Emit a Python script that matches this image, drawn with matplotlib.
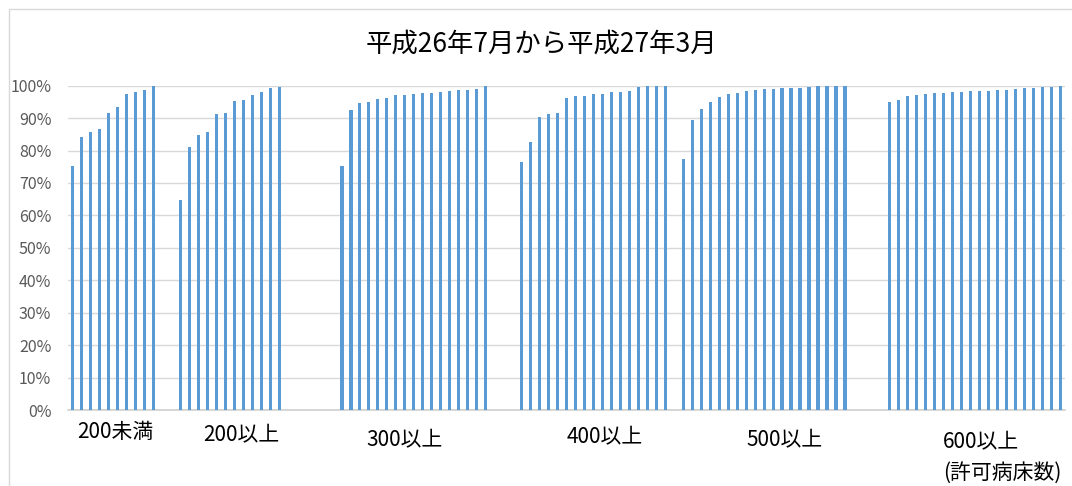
import matplotlib
matplotlib.use('Agg')
import matplotlib.pyplot as plt
from matplotlib.patches import Rectangle
import numpy as np

plt.rcParams['font.family'] = ['Noto Sans CJK JP', 'DejaVu Sans']

# データ (許可病床数区分ごとの割合)
title = '平成26年7月から平成27年3月'
group_names = ['200未満', '200以上', '300以上', '400以上', '500以上', '600以上']
# 各グループの前の空きスロット数
group_gaps = [0, 2, 6, 3, 1, 4]
g1 = [0.752, 0.841, 0.856, 0.865, 0.917, 0.935, 0.974, 0.981, 0.987, 1.0]
g2 = [0.647, 0.811, 0.849, 0.856, 0.913, 0.915, 0.952, 0.957, 0.970, 0.980, 0.992, 0.995]
g3 = [0.752, 0.926, 0.948, 0.950, 0.960, 0.963, 0.971, 0.972, 0.975, 0.976,
      0.979, 0.980, 0.984, 0.986, 0.988, 0.991, 1.0]
g4 = [0.765, 0.826, 0.902, 0.912, 0.916, 0.963, 0.967, 0.967, 0.973, 0.975,
      0.980, 0.980, 0.984, 0.997, 1.0, 1.0, 1.0]
g5 = [0.775, 0.894, 0.929, 0.951, 0.966, 0.973, 0.979, 0.985, 0.987, 0.990,
      0.991, 0.993, 0.993, 0.994, 0.997, 1.0, 1.0, 1.0, 1.0]
g6 = [0.950, 0.956, 0.967, 0.971, 0.975, 0.978, 0.979, 0.980, 0.980, 0.983,
      0.983, 0.984, 0.987, 0.987, 0.990, 0.993, 0.993, 0.996, 0.997, 1.0]
groups = [g1, g2, g3, g4, g5, g6]

# ラベルの位置 (スロット番号) と縦位置 (軸下からのピクセル)
label_x = [4.75, 18.8, 37.0, 59.3, 79.3, 101.1]
label_dy = [22, 25, 30, 27, 30, 32]
unit_label = '(許可病床数)'

# 1. 棒の位置を計算
xs, vals = [], []
pos = 0
for gap, g in zip(group_gaps, groups):
    pos += gap
    for v in g:
        xs.append(pos)
        vals.append(v)
        pos += 1
n_slots = pos

# 2. 描画
fig = plt.figure(figsize=(10.72, 4.86), dpi=100)
W, H = 1072, 486
ax = fig.add_axes([68 / W, 76 / H, (1065 - 68) / W, (410 - 85.7) / H])

ax.bar(xs, vals, width=0.35, color='#5B9BD5', zorder=3)
ax.set_xlim(-0.5, n_slots - 0.5)
ax.set_ylim(0, 1.0)

yt = np.arange(0, 1.01, 0.1)
ax.set_yticks(yt)
ax.set_yticklabels([f'{int(round(t * 100))}%' for t in yt], color='#595959', fontsize=11.5)
ax.tick_params(axis='y', length=0, pad=12)
ax.set_xticks([])
ax.grid(axis='y', color='#D9D9D9', linewidth=1, zorder=0)
for s in ['top', 'right', 'left']:
    ax.spines[s].set_visible(False)
ax.spines['bottom'].set_color('#D0D0D0')
ax.spines['bottom'].set_linewidth(1.2)

# カテゴリラベル
for name, lx, dy in zip(group_names, label_x, label_dy):
    xf = ax.transData.transform((lx, 0))[0] / W
    fig.text(xf, (76 - dy) / H, name, ha='center', va='center', fontsize=15, color='black')
fig.text(1002 / W, (486 - 473) / H, unit_label, ha='center', va='center', fontsize=15, color='black')

# タイトル
fig.text(541 / W, (486 - 44) / H, title, ha='center', va='center', fontsize=19, color='black')

# 外枠
fig.patches.append(Rectangle((8.5 / W, -0.1), 1.2, (486 - 9) / H + 0.1,
                             transform=fig.transFigure, fill=False,
                             edgecolor='#D9D9D9', linewidth=1))

fig.savefig('out.png', dpi=100)
